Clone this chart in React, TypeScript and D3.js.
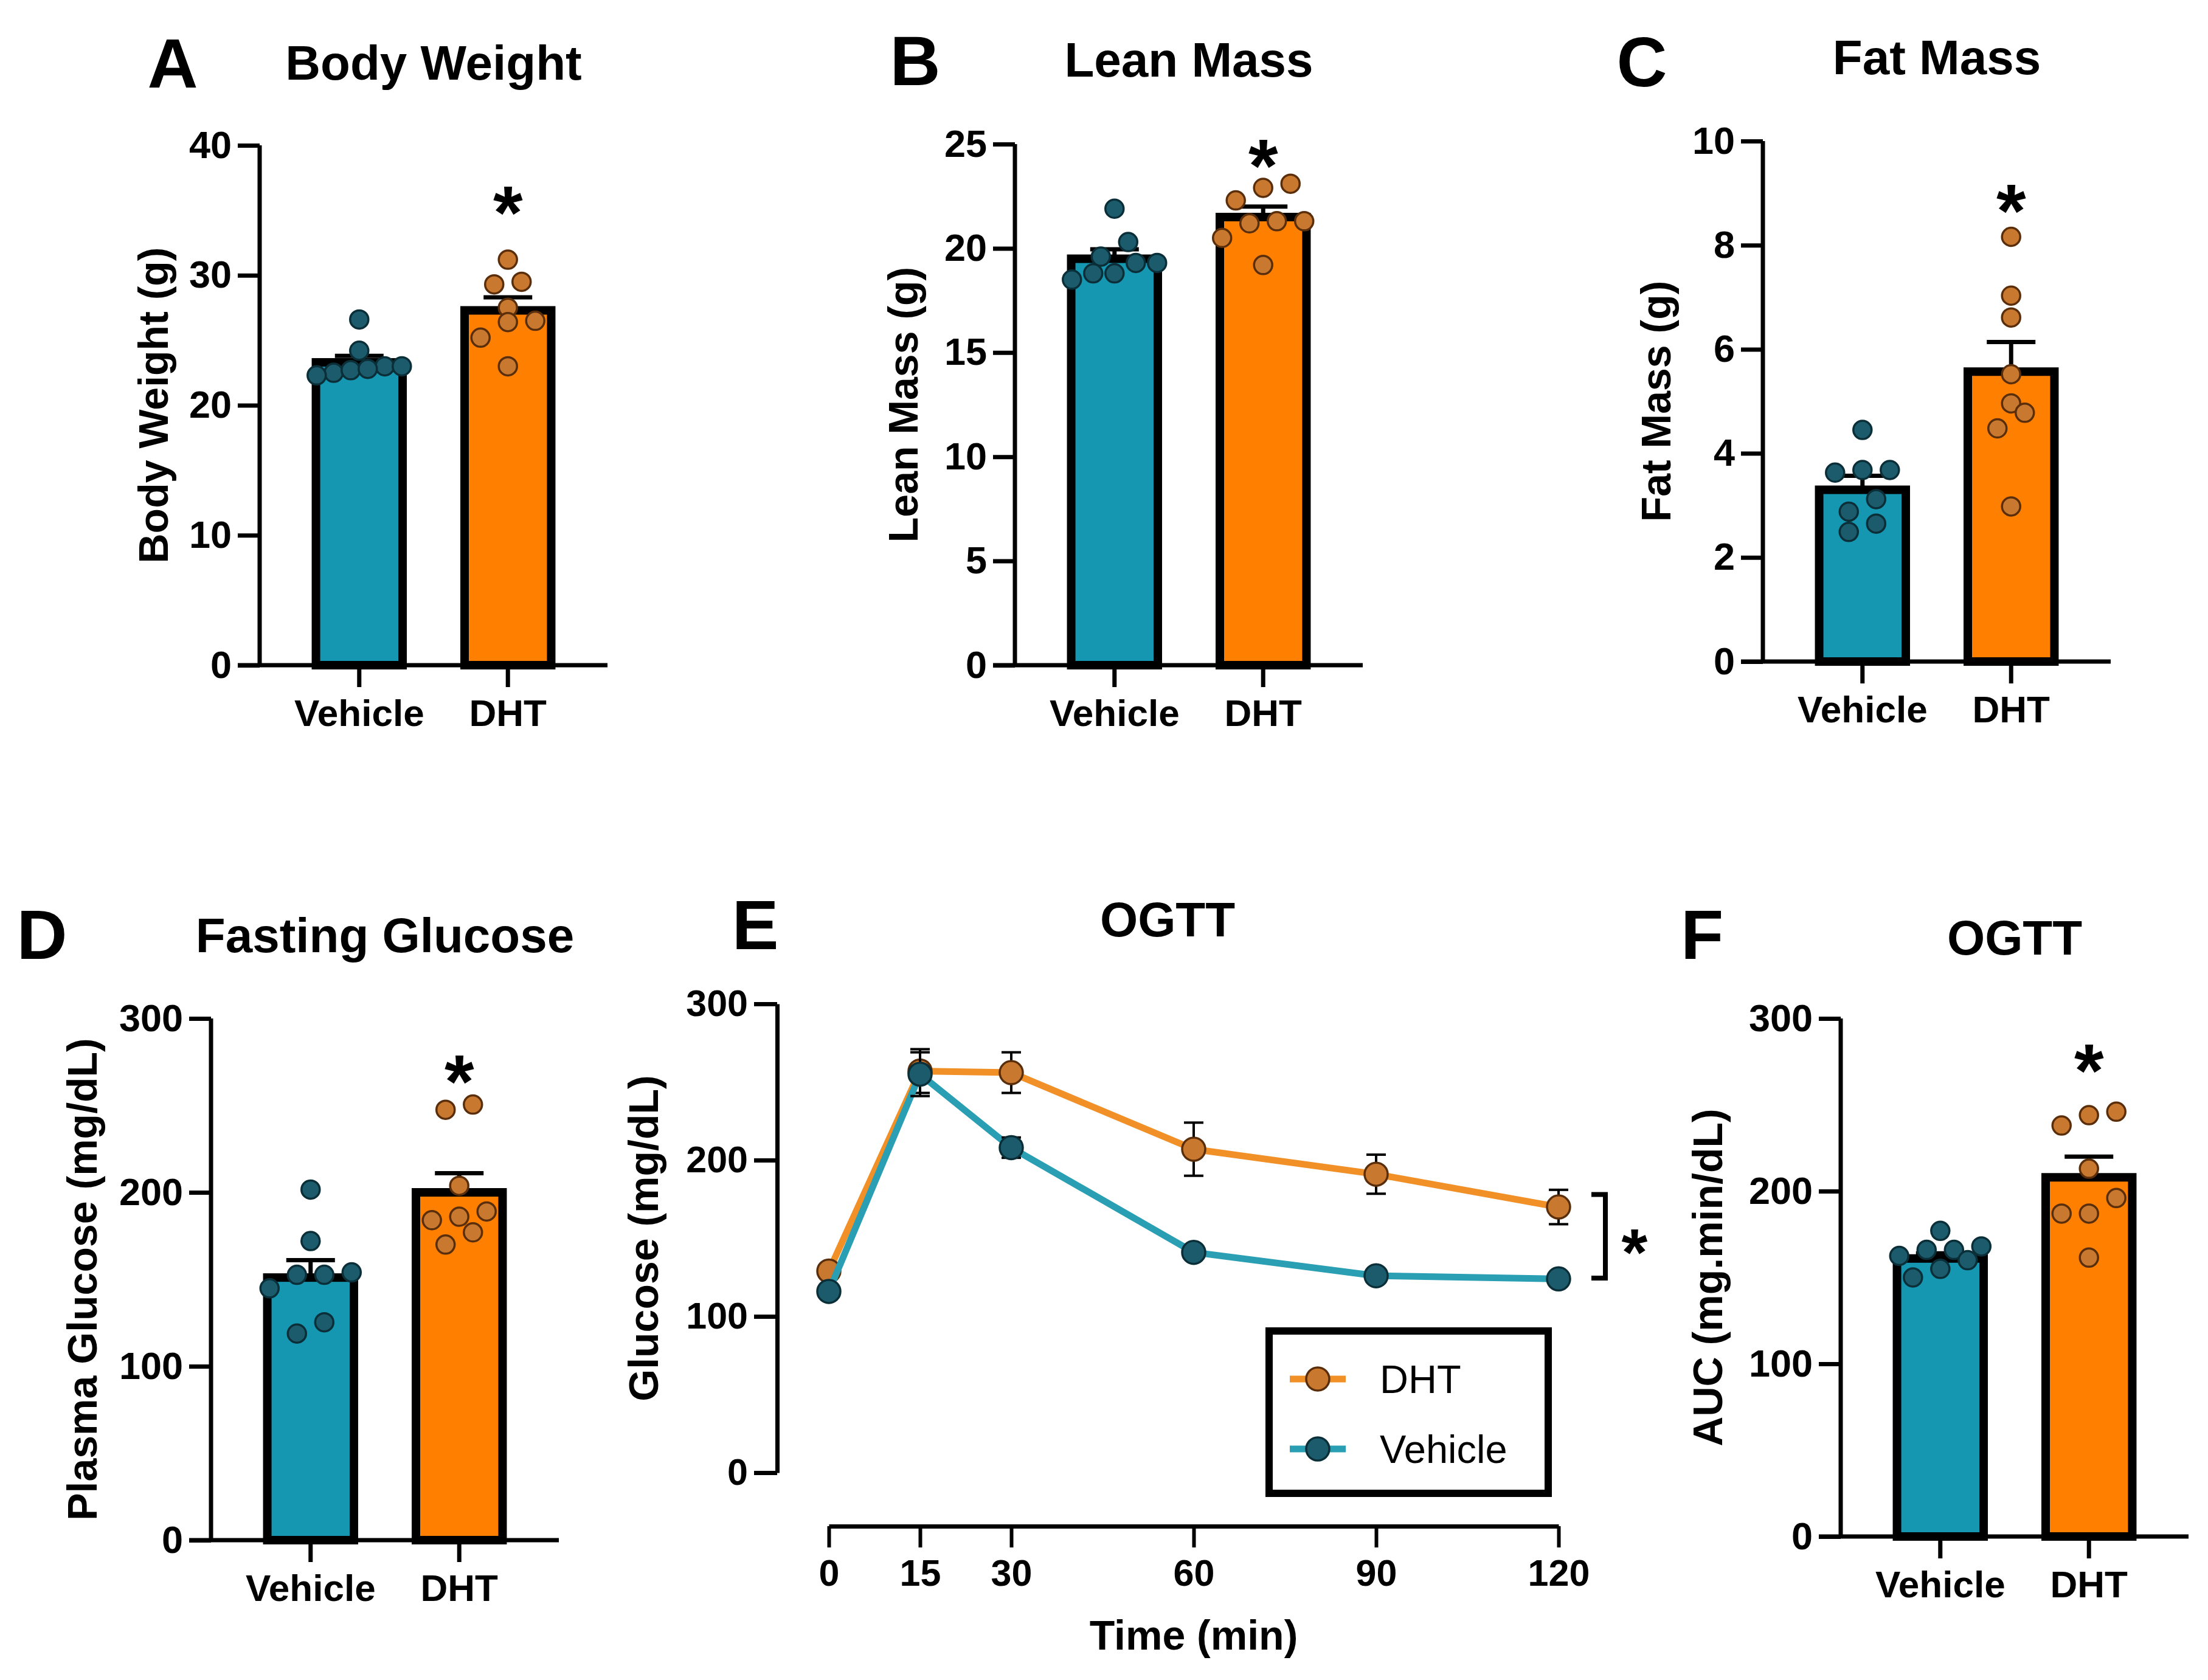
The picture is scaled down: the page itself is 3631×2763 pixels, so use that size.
import { useEffect, useRef } from 'react';
import * as d3 from 'd3';

const groups = ['Vehicle', 'DHT'];

// A - body weight (g)
const bodyWeightVehicle = [26.6, 24.2, 23.0, 22.5, 22.7, 22.8, 22.3, 23.0];
const bodyWeightDht = [31.2, 29.3, 29.5, 27.5, 26.5, 26.4, 25.2, 23.0];
const bodyWeightMean = [23.3, 27.3];
const bodyWeightSem = [0.5, 1.0];

// B - lean mass (g)
const leanVehicle = [21.9, 20.3, 19.3, 19.3, 19.6, 18.5, 18.8, 18.8];
const leanDht = [23.1, 22.9, 22.3, 21.3, 21.3, 21.2, 20.5, 19.2];
const leanMean = [19.5, 21.5];
const leanSem = [0.45, 0.5];

// C - fat mass (g)
const fatVehicle = [4.45, 3.68, 3.68, 3.63, 3.12, 2.88, 2.65, 2.49];
const fatDht = [8.16, 7.03, 6.61, 5.52, 4.96, 4.78, 4.48, 2.98];
const fatMean = [3.3, 5.57];
const fatSem = [0.27, 0.57];

// D - fasting glucose (mg/dL)
const glucoseVehicle = [201.6, 172, 152.6, 152.6, 154, 144.8, 125.3, 118.8];
const glucoseDht = [250.5, 247.5, 203.8, 189, 186, 184, 177, 170];
const glucoseMean = [151, 200];
const glucoseSem = [10, 11];

// E - OGTT time course
const ogttTimes = [0, 15, 30, 60, 90, 120];
const ogttDhtMean = [129, 257, 256, 207, 191, 170];
const ogttDhtSem = [3, 14, 13, 17, 12.5, 11];
const ogttVehicleMean = [116, 255, 208, 141, 126, 124];
const ogttVehicleSem = [3, 14, 6.5, 3, 2, 2];
const ogttYTicks = [0, 100, 200, 300];

// F - OGTT AUC (mg.min/dL)
const aucVehicle = [177, 162.5, 166, 168, 166, 150, 155, 160];
const aucDht = [246, 244, 238, 213, 196, 187, 187, 161.5];
const aucMean = [161, 208];
const aucSem = [3, 12];

const FONT = '"Liberation Sans", Arial, Helvetica, sans-serif';
const barFill = ['#1597B2', '#FF8000'];
const pointFill = ['#1C5B6B', '#C8782F'];
const pointStroke = ['#0B2F38', '#5A2E0A'];
const lineColor = { dht: '#F29028', vehicle: '#2A9FB4' };

const barPanels = [
  { letter: 'A', title: 'Body Weight', yLabel: 'Body Weight (g)', yMax: 40, step: 10, points: [bodyWeightVehicle, bodyWeightDht], mean: bodyWeightMean, sem: bodyWeightSem, sig: 36.2,
    axisX: 427, y0: 1094, yTop: 239, letterX: 284, letterY: 144, titleY: 131, yTitleX: 254 },
  { letter: 'B', title: 'Lean Mass', yLabel: 'Lean Mass (g)', yMax: 25, step: 5, points: [leanVehicle, leanDht], mean: leanMean, sem: leanSem, sig: 24.8,
    axisX: 1669, y0: 1094, yTop: 237, letterX: 1505, letterY: 140, titleY: 126, yTitleX: 1487 },
  { letter: 'C', title: 'Fat Mass', yLabel: 'Fat Mass (g)', yMax: 10, step: 2, points: [fatVehicle, fatDht], mean: fatMean, sem: fatSem, sig: 9.0,
    axisX: 2899, y0: 1088, yTop: 232, letterX: 2700, letterY: 142, titleY: 122, yTitleX: 2725 },
  { letter: 'D', title: 'Fasting Glucose', yLabel: 'Plasma Glucose (mg/dL)', yMax: 300, step: 100, points: [glucoseVehicle, glucoseDht], mean: glucoseMean, sem: glucoseSem, sig: 274,
    axisX: 347, y0: 2533, yTop: 1675, letterX: 69, letterY: 1577, titleY: 1566, yTitleX: 137 },
  { letter: 'F', title: 'OGTT', yLabel: 'AUC (mg.min/dL)', yMax: 300, step: 100, points: [aucVehicle, aucDht], mean: aucMean, sem: aucSem, sig: 280,
    axisX: 3027, y0: 2527, yTop: 1675, letterX: 2799, letterY: 1577, titleY: 1570, yTitleX: 2810 }
];

const PLOT_W = 572;
const TICK = 36;
const DOT_R = 15;

// GraphPad-like scatter: points that fall in the same row are centred side by side
function swarm(vals: number[], y: (v: number) => number, r: number) {
  const order = vals.map((_, i) => i).sort((a, b) => vals[a] - vals[b]);
  const out: { x: number; y: number }[] = new Array(vals.length);
  let bin: number[] = [];
  let start: number | null = null;
  const flush = () => {
    const gap = bin.length > 1 ? Math.min(r * 3, 140 / (bin.length - 1)) : 0;
    bin.forEach((i, k) => { out[i] = { x: (k - (bin.length - 1) / 2) * gap, y: y(vals[i]) }; });
    bin = [];
  };
  for (const i of order) {
    const py = y(vals[i]);
    if (start === null || Math.abs(py - start) >= 2 * r) { flush(); start = py; }
    bin.push(i);
  }
  flush();
  return out;
}

function asterisk(g: any, x: number, cy: number, size = 125) {
  g.append('text')
    .attr('x', x)
    .attr('y', cy + size * 0.58)
    .attr('text-anchor', 'middle')
    .attr('font-size', size)
    .attr('font-weight', 700)
    .text('*');
}

export default function App() {
  const svgRef = useRef<SVGSVGElement>(null);

  useEffect(() => {
    if (!svgRef.current) return;
    const svg = d3.select(svgRef.current);
    svg.selectAll('*').remove();
    svg.append('rect').attr('width', 3631).attr('height', 2763).attr('fill', '#fff');
    const root = svg.append('g').attr('font-family', FONT).attr('fill', '#000');

    // ---------- bar panels ----------
    barPanels.forEach(p => {
      const g = root.append('g');
      const x = d3.scaleBand().domain(groups).range([p.axisX, p.axisX + PLOT_W]).paddingInner(0.36).paddingOuter(0.35);
      const y = d3.scaleLinear().domain([0, p.yMax]).range([p.y0, p.yTop]);
      const bw = x.bandwidth();
      const barStroke = 14;

      g.append('text').attr('x', p.letterX).attr('y', p.letterY).attr('text-anchor', 'middle')
        .attr('font-size', 115).attr('font-weight', 700).text(p.letter);
      g.append('text').attr('x', p.axisX + PLOT_W / 2).attr('y', p.titleY).attr('text-anchor', 'middle')
        .attr('font-size', 80).attr('font-weight', 700).text(p.title);

      // bars
      g.selectAll('.bar').data(groups).enter().append('rect')
        .attr('x', d => (x(d) as number) + barStroke / 2)
        .attr('width', bw - barStroke)
        .attr('y', (d, i) => y(p.mean[i]))
        .attr('height', (d, i) => p.y0 - y(p.mean[i]))
        .attr('fill', (d, i) => barFill[i])
        .attr('stroke', '#000')
        .attr('stroke-width', barStroke);

      // SEM (upper only)
      groups.forEach((gr, i) => {
        const cx = (x(gr) as number) + bw / 2;
        const top = y(p.mean[i] + p.sem[i]);
        g.append('line').attr('x1', cx).attr('x2', cx).attr('y1', y(p.mean[i])).attr('y2', top)
          .attr('stroke', '#000').attr('stroke-width', 7);
        g.append('line').attr('x1', cx - 40).attr('x2', cx + 40).attr('y1', top).attr('y2', top)
          .attr('stroke', '#000').attr('stroke-width', 7);
      });

      // individual animals
      groups.forEach((gr, i) => {
        const cx = (x(gr) as number) + bw / 2;
        const pos = swarm(p.points[i], y, DOT_R);
        g.selectAll(null).data(pos).enter().append('circle')
          .attr('cx', d => cx + d.x)
          .attr('cy', d => d.y)
          .attr('r', DOT_R)
          .attr('fill', pointFill[i])
          .attr('stroke', pointStroke[i])
          .attr('stroke-width', 3.5);
      });

      // axes
      const yAxis = g.append('g').attr('transform', `translate(${p.axisX},0)`)
        .call(d3.axisLeft(y).tickValues(d3.range(0, p.yMax + p.step / 2, p.step)).tickSize(TICK).tickSizeOuter(0).tickPadding(10));
      yAxis.select('.domain').attr('stroke-width', 7).attr('d', `M0,${p.yTop}V${p.y0}`);
      yAxis.selectAll('.tick line').attr('stroke-width', 7);
      yAxis.selectAll('.tick text').attr('font-size', 63).attr('font-weight', 700).attr('font-family', FONT).attr('fill', '#000');

      const xAxis = g.append('g').attr('transform', `translate(0,${p.y0})`)
        .call(d3.axisBottom(x).tickSize(TICK).tickSizeOuter(0).tickPadding(0));
      xAxis.select('.domain').remove();
      xAxis.selectAll('.tick line').attr('stroke-width', 7);
      xAxis.selectAll('.tick text').attr('font-size', 62).attr('font-weight', 700).attr('font-family', FONT)
        .attr('fill', '#000').attr('dy', 0).attr('y', 100);
      g.append('line').attr('x1', p.axisX - TICK).attr('x2', p.axisX + PLOT_W).attr('y1', p.y0).attr('y2', p.y0)
        .attr('stroke', '#000').attr('stroke-width', 7);

      g.append('text')
        .attr('transform', `translate(${p.yTitleX + 22},${(p.y0 + p.yTop) / 2}) rotate(-90)`)
        .attr('text-anchor', 'middle').attr('font-size', 68).attr('font-weight', 700).text(p.yLabel);

      asterisk(g, (x('DHT') as number) + bw / 2, y(p.sig));
    });

    // ---------- E: OGTT time course ----------
    const e = root.append('g');
    const ex = d3.scaleLinear().domain([0, 120]).range([1363, 2563]);
    const ey = d3.scaleLinear().domain([0, 300]).range([2422, 1651]);
    const eAxisX = 1278;
    const eXAxisY = 2510;

    e.append('text').attr('x', 1242).attr('y', 1561).attr('text-anchor', 'middle')
      .attr('font-size', 115).attr('font-weight', 700).text('E');
    e.append('text').attr('x', 1920).attr('y', 1540).attr('text-anchor', 'middle')
      .attr('font-size', 80).attr('font-weight', 700).text('OGTT');

    const eyAxis = e.append('g').attr('transform', `translate(${eAxisX},0)`)
      .call(d3.axisLeft(ey).tickValues(ogttYTicks).tickSize(38).tickSizeOuter(0).tickPadding(10));
    eyAxis.select('.domain').attr('stroke-width', 7);
    eyAxis.selectAll('.tick line').attr('stroke-width', 7);
    eyAxis.selectAll('.tick text').attr('font-size', 61).attr('font-weight', 700).attr('font-family', FONT).attr('fill', '#000');

    const exAxis = e.append('g').attr('transform', `translate(0,${eXAxisY})`)
      .call(d3.axisBottom(ex).tickValues(ogttTimes).tickSize(35).tickSizeOuter(0).tickPadding(0));
    exAxis.select('.domain').attr('stroke-width', 7);
    exAxis.selectAll('.tick line').attr('stroke-width', 6);
    exAxis.selectAll('.tick text').attr('font-size', 61).attr('font-weight', 700).attr('font-family', FONT)
      .attr('fill', '#000').attr('dy', 0).attr('y', 98);

    e.append('text').attr('x', 1963).attr('y', 2713).attr('text-anchor', 'middle')
      .attr('font-size', 68).attr('font-weight', 700).text('Time (min)');
    e.append('text')
      .attr('transform', `translate(${1060 + 22},${(2422 + 1651) / 2}) rotate(-90)`)
      .attr('text-anchor', 'middle').attr('font-size', 68).attr('font-weight', 700).text('Glucose (mg/dL)');

    const series = [
      { key: 'dht', mean: ogttDhtMean, sem: ogttDhtSem, line: lineColor.dht, fill: pointFill[1], stroke: pointStroke[1] },
      { key: 'vehicle', mean: ogttVehicleMean, sem: ogttVehicleSem, line: lineColor.vehicle, fill: pointFill[0], stroke: pointStroke[0] }
    ];
    const line = d3.line<number>().x((d, i) => ex(ogttTimes[i])).y(d => ey(d));

    series.forEach(s => {
      e.append('path').attr('d', line(s.mean)).attr('fill', 'none')
        .attr('stroke', s.line).attr('stroke-width', 11).attr('stroke-linejoin', 'round');
      s.mean.forEach((m, i) => {
        const cx = ex(ogttTimes[i]);
        const lo = ey(m - s.sem[i]);
        const hi = ey(m + s.sem[i]);
        e.append('line').attr('x1', cx).attr('x2', cx).attr('y1', lo).attr('y2', hi).attr('stroke', '#000').attr('stroke-width', 4);
        [lo, hi].forEach(yy => e.append('line').attr('x1', cx - 16).attr('x2', cx + 16).attr('y1', yy).attr('y2', yy)
          .attr('stroke', '#000').attr('stroke-width', 4));
      });
      e.selectAll(null).data(s.mean).enter().append('circle')
        .attr('cx', (d, i) => ex(ogttTimes[i]))
        .attr('cy', d => ey(d))
        .attr('r', 19)
        .attr('fill', s.fill)
        .attr('stroke', s.stroke)
        .attr('stroke-width', 3.5);
    });

    // significance bracket at 120 min
    const bx = ex(120) + 77;
    const bTop = ey(178);
    const bBot = ey(124.5);
    e.append('path').attr('d', `M${bx - 23},${bTop}H${bx}V${bBot}H${bx - 23}`)
      .attr('fill', 'none').attr('stroke', '#000').attr('stroke-width', 8);
    asterisk(e, bx + 48, (bTop + bBot) / 2, 110);

    // legend
    const lg = e.append('g');
    lg.append('rect').attr('x', 2087).attr('y', 2189).attr('width', 459).attr('height', 267)
      .attr('fill', '#fff').attr('stroke', '#000').attr('stroke-width', 12);
    [series[0], series[1]].forEach((s, i) => {
      const ly = 2268 + i * 115;
      lg.append('line').attr('x1', 2121).attr('x2', 2213).attr('y1', ly).attr('y2', ly)
        .attr('stroke', s.line).attr('stroke-width', 11);
      lg.append('circle').attr('cx', 2167).attr('cy', ly).attr('r', 19)
        .attr('fill', s.fill).attr('stroke', s.stroke).attr('stroke-width', 3.5);
      lg.append('text').attr('x', 2269).attr('y', ly + 23).attr('font-size', 65)
        .text(s.key === 'dht' ? 'DHT' : 'Vehicle');
    });
  }, []);

  return (
    <div style={{ position: 'absolute', left: 0, top: 0 }}>
      <svg ref={svgRef} width={3631} height={2763} style={{ display: 'block' }} />
    </div>
  );
}
